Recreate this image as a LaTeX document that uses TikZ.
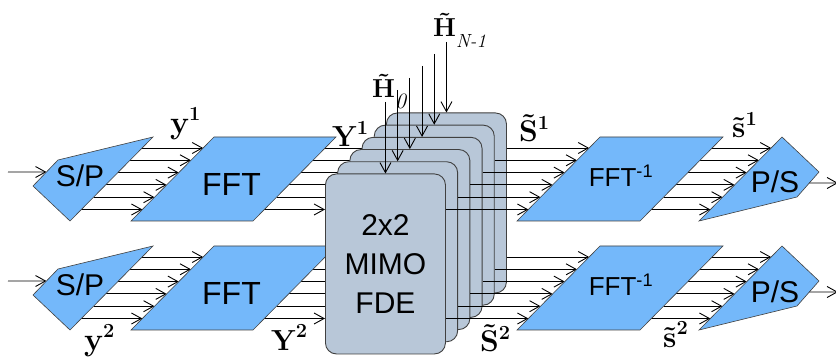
\documentclass[tikz,border=0pt]{standalone}
\usepackage{amsmath}
\usepackage{fontspec}
\newfontfamily\arialfont{Liberation Sans}
\usetikzlibrary{arrows.meta,calc}
\pgfdeclarelayer{under}
\pgfsetlayers{under,main}
\definecolor{shapeblue}{RGB}{116,184,250}
\definecolor{boxgray}{RGB}{184,199,216}
\definecolor{edgegray}{RGB}{64,64,64}
\tikzset{
  blueshape/.style={fill=shapeblue, draw=edgegray, line width=0.6pt, line join=miter},
  fdebox/.style={fill=boxgray, draw=edgegray, line width=0.9pt, rounded corners=11pt,
    minimum width=120pt, minimum height=180pt, inner sep=0pt, anchor=north west},
  conn/.style={line width=0.9pt, -{Straight Barb[length=10pt,width=11pt]}},
  lbl/.style={inner sep=0pt, anchor=base west, font=\bfseries\fontsize{#1}{#1}\selectfont},
  sanstxt/.style={inner sep=0pt, anchor=base, font=\arialfont\fontsize{30}{36}\selectfont},
  sansbig/.style={inner sep=0pt, anchor=base, font=\arialfont\fontsize{32}{36}\selectfont},
  sanssmall/.style={inner sep=0pt, anchor=base, font=\arialfont\fontsize{26}{32}\selectfont},
  boxtxt/.style={align=center, font=\arialfont\fontsize{30}{39}\selectfont}
}
\newcommand{\tb}[1]{\accent"02DC #1}
\newcommand{\lsup}[1]{\raisebox{0.42em}{\fontsize{20}{20}\selectfont #1}}
\newcommand{\hsub}[2]{\raisebox{-11pt}{\mdseries\fontsize{#1}{20}\selectfont\itshape #2}}
\begin{document}
\begin{tikzpicture}[x=1pt,y=-1pt]
\begin{pgfonlayer}{under}
\fill[white] (0,0) rectangle (836,358);
\end{pgfonlayer}
\useasboundingbox (0,0) rectangle (836,358);

% ---------- shape corner coordinates for both rows ----------
\foreach \r/\dy in {1/0,2/109} {
  \coordinate (spL\r)  at (33,186+\dy);
  \coordinate (spT\r)  at (58,160+\dy);
  \coordinate (spTR\r) at (153,137+\dy);
  \coordinate (spB\r)  at (70,221+\dy);
  \coordinate (fftTL\r) at (214,137+\dy);
  \coordinate (fftTR\r) at (336,137+\dy);
  \coordinate (fftBR\r) at (253,221+\dy);
  \coordinate (fftBL\r) at (131,221+\dy);
  \coordinate (iffTL\r) at (600,137+\dy);
  \coordinate (iffTR\r) at (723,137+\dy);
  \coordinate (iffBR\r) at (640,221+\dy);
  \coordinate (iffBL\r) at (517,221+\dy);
  \coordinate (psT\r)  at (782,137+\dy);
  \coordinate (psR\r)  at (819,172+\dy);
  \coordinate (psBR\r) at (797,197+\dy);
  \coordinate (psBL\r) at (699,221+\dy);
  \coordinate (in\r)  at (8,172+\dy);
  \coordinate (out\r) at (838,183+\dy);
}

% ---------- stacked FDE boxes (back to front) ----------
\foreach \k in {5,4,...,1} {
  \node[fdebox] (b\k) at (325+12.2*\k,173.5-12.2*\k) {};
}
\node[fdebox] (b0) at (325,173.5) {};
\node[boxtxt] (mimo) at (b0.center) {2x2\\MIMO\\FDE};

% ---------- left part (under the boxes) ----------
\begin{pgfonlayer}{under}
\foreach \r in {1,2} {
  \draw[conn] (in\r) -- ($(spL\r)!0.538!(spT\r)$);
  \foreach \j in {0,...,5} {
    \pgfmathsetmacro\t{(73-12.3*\j)/84}
    \pgfmathtruncatemacro\k{5-\j}
    \draw[conn] ($(spB\r)!\t!(spTR\r)$) -- ($(fftBL\r)!\t!(fftTL\r)$);
    \draw[conn] ($(fftBR\r)!\t!(fftTR\r)$) coordinate (fo\r\j) -- (b\k.west |- fo\r\j);
  }
  \draw[blueshape] (spL\r) -- (spT\r) -- (spTR\r) -- (spB\r) -- cycle;
  \draw[blueshape] (fftTL\r) -- (fftTR\r) -- (fftBR\r) -- (fftBL\r) -- cycle;
}
\end{pgfonlayer}

% ---------- right part ----------
\foreach \r in {1,2} {
  \foreach \j in {0,...,5} {
    \pgfmathsetmacro\t{(73-12.3*\j)/84}
    \pgfmathtruncatemacro\k{5-\j}
    \path ($(iffBL\r)!\t!(iffTL\r)$) coordinate (fi\r\j);
    \draw[conn] (b\k.east |- fi\r\j) -- (fi\r\j);
    \draw[conn] ($(iffBR\r)!\t!(iffTR\r)$) -- ($(psBL\r)!\t!(psT\r)$);
  }
  \draw[blueshape] (iffTL\r) -- (iffTR\r) -- (iffBR\r) -- (iffBL\r) -- cycle;
  \draw[blueshape] (psT\r) -- (psR\r) -- (psBR\r) -- (psBL\r) -- cycle;
  \draw[conn] ($(psR\r)!0.44!(psBR\r)$) -- (out\r);
}

% ---------- block texts ----------
\foreach \r/\dy in {1/0,2/109} {
  \node[sanstxt] (tsp\r) at (80,187+\dy) {S/P};
  \node[sansbig] (tfft\r) at (231.5,196+\dy) {FFT};
  \node[sanssmall] (tiff\r) at (621,187+\dy) {FFT\textsuperscript{-1}};
  \node[sanstxt] (tps\r) at (775,193+\dy) {P/S};
}

% ---------- channel coefficient arrows ----------
\foreach \k in {0,...,5} {
  \coordinate (h\k) at ($(b\k.north)+(0,-71.5+0.2*\k)$);
  \draw[conn] (h\k) -- (b\k.north);
}

% ---------- labels ----------
\node[lbl=32] (ly1) at (170,134) {y\lsup{1}};
\node[lbl=29] (lY1) at (332,147) {Y\lsup{1}};
\node[lbl=30] (lS1) at (519,142) {\tb{S}\lsup{1}};
\node[lbl=30] (ls1) at (732,138) {\tb{s}\lsup{1}};
\node[lbl=32] (ly2) at (84,351) {y\lsup{2}};
\node[lbl=29] (lY2) at (271,350) {Y\lsup{2}};
\node[lbl=30] (lS2) at (480,352) {\tb{S}\lsup{2}};
\node[lbl=30] (ls2) at (663,347) {\tb{s}\lsup{2}};
\node[lbl=26] (lH0) at (372,98) {\tb{H}\hsub{22}{0}};
\node[lbl=26] (lHN) at (433,37) {\tb{H}\hsub{19}{N-1}};
\end{tikzpicture}
\end{document}
